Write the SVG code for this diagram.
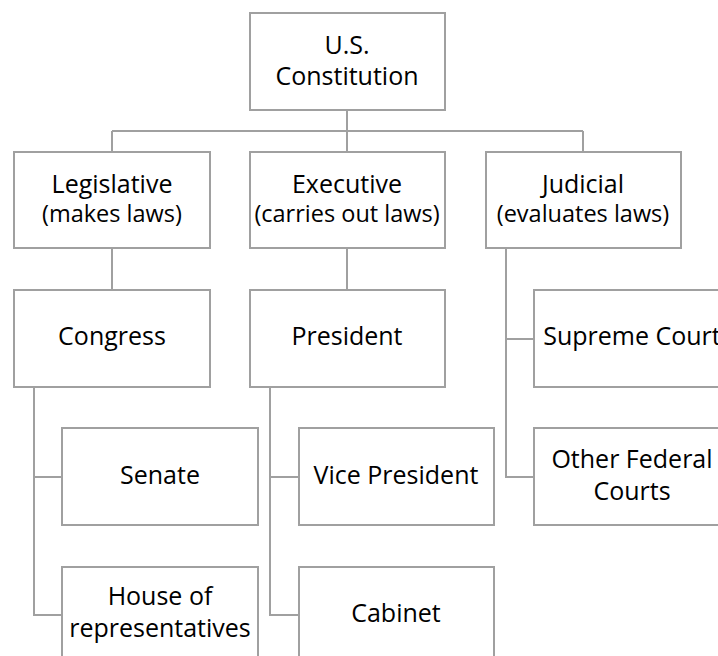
<svg xmlns="http://www.w3.org/2000/svg" width="718" height="656" viewBox="0 0 718 656">
<style>
rect{fill:#fff;stroke:#a0a0a0;stroke-width:2}
.c path{fill:none;stroke:#a0a0a0;stroke-width:2}
text{font-family:"Open Sans",Lato,sans-serif;font-size:25px;fill:#000;text-anchor:middle}
.s{font-size:23.5px}
</style>
<rect x="0" y="0" width="718" height="656" style="stroke:none"/>
<g class="c">
<path d="M347 110V152M112 131H583M112 131V152M583 131V152"/>
<path d="M112 248V290M347 248V290"/>
<path d="M34 387V615H62M34 477H62"/>
<path d="M270 387V615H299M270 477H299"/>
<path d="M506 248V477H534M506 339H534"/>
</g>
<g id="constitution"><rect x="250" y="13" width="195" height="97"/><text x="347" y="54">U.S.</text><text x="347" y="85">Constitution</text></g>
<g id="legislative"><rect x="14" y="152" width="196" height="96"/><text x="112" y="193">Legislative</text><text class="s" x="112" y="222">(makes laws)</text></g>
<g id="executive"><rect x="250" y="152" width="195" height="96"/><text x="347" y="193">Executive</text><text class="s" x="347" y="222">(carries out laws)</text></g>
<g id="judicial"><rect x="486" y="152" width="195" height="96"/><text x="583" y="193">Judicial</text><text class="s" x="583" y="222">(evaluates laws)</text></g>
<g id="congress"><rect x="14" y="290" width="196" height="97"/><text x="112" y="345">Congress</text></g>
<g id="president"><rect x="250" y="290" width="195" height="97"/><text x="347" y="345">President</text></g>
<g id="supreme"><rect x="534" y="290" width="196" height="97"/><text x="632" y="345">Supreme Court</text></g>
<g id="senate"><rect x="62" y="428" width="196" height="97"/><text x="160" y="484">Senate</text></g>
<g id="vp"><rect x="299" y="428" width="195" height="97"/><text x="396" y="484">Vice President</text></g>
<g id="federal"><rect x="534" y="428" width="196" height="97"/><text x="632" y="468">Other Federal</text><text x="632" y="500">Courts</text></g>
<g id="house"><rect x="62" y="567" width="196" height="100"/><text x="160" y="605">House of</text><text x="160" y="637">representatives</text></g>
<g id="cabinet"><rect x="299" y="567" width="195" height="100"/><text x="396" y="622">Cabinet</text></g>
</svg>
